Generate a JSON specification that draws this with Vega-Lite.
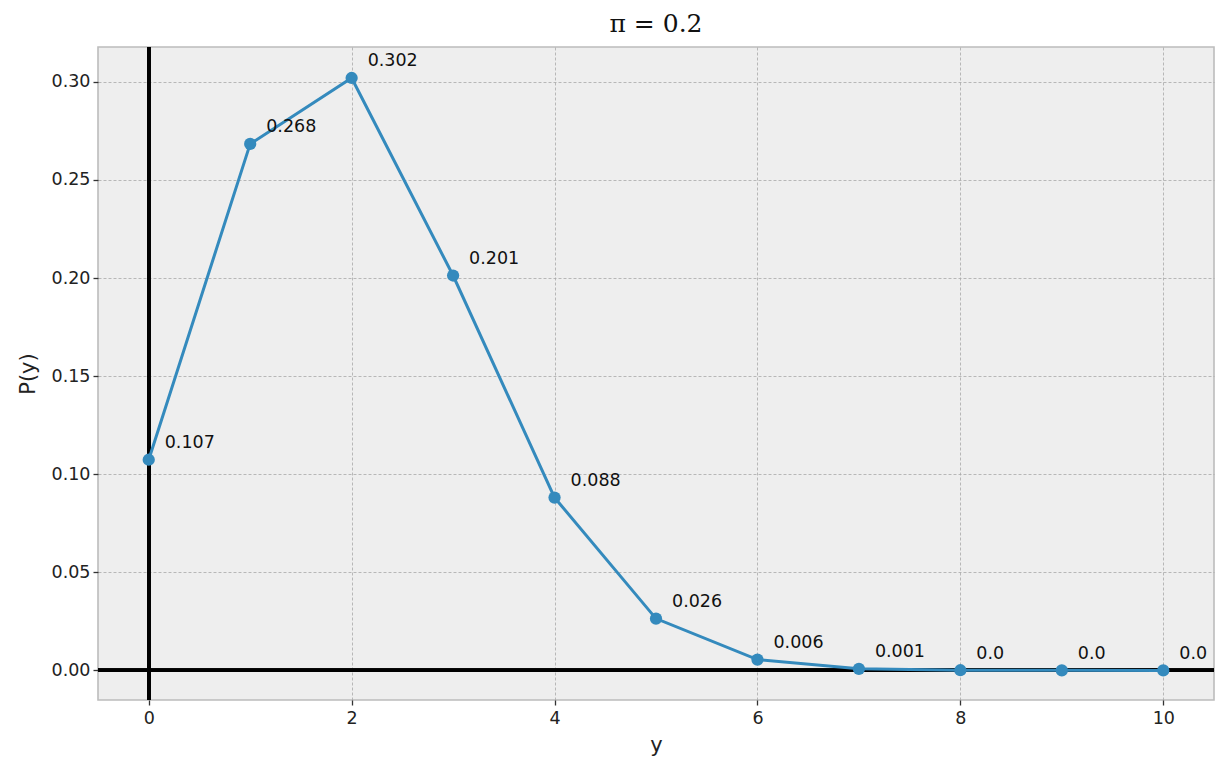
{
  "$schema": "https://vega.github.io/schema/vega-lite/v6.json",
  "autosize": "none",
  "width": 1116,
  "height": 653,
  "padding": {"left": 98, "top": 47, "right": 14, "bottom": 73},
  "background": "white",
  "config": {
    "view": {"fill": "#eeeeee", "stroke": "#bcbcbc", "strokeWidth": 1.6},
    "axis": {
      "domain": false,
      "grid": true,
      "gridColor": "#a8a8a8",
      "gridDash": [3, 2],
      "gridWidth": 0.8,
      "tickColor": "#333333",
      "tickSize": 5,
      "tickWidth": 1.3,
      "labelFont": "DejaVu Sans",
      "labelFontSize": 17.5,
      "labelColor": "#222222",
      "titleFont": "DejaVu Sans",
      "titleFontSize": 21,
      "titleFontWeight": "normal",
      "titleColor": "#222222"
    }
  },
  "title": {"text": "π = 0.2", "font": "DejaVu Serif", "fontSize": 25, "fontWeight": "normal", "color": "#111111", "offset": 8},
  "data": {"values": [
    {"y": 0, "p": 0.1074, "label": "0.107"},
    {"y": 1, "p": 0.2684, "label": "0.268"},
    {"y": 2, "p": 0.3020, "label": "0.302"},
    {"y": 3, "p": 0.2013, "label": "0.201"},
    {"y": 4, "p": 0.0881, "label": "0.088"},
    {"y": 5, "p": 0.0264, "label": "0.026"},
    {"y": 6, "p": 0.0055, "label": "0.006"},
    {"y": 7, "p": 0.00079, "label": "0.001"},
    {"y": 8, "p": 0.000074, "label": "0.0"},
    {"y": 9, "p": 0.0000041, "label": "0.0"},
    {"y": 10, "p": 0.0000001, "label": "0.0"}
  ]},
  "encoding": {
    "x": {"field": "y", "type": "quantitative", "scale": {"domain": [-0.5, 10.5], "nice": false, "zero": false},
      "axis": {"values": [0, 2, 4, 6, 8, 10], "title": "y", "labelPadding": 4, "titlePadding": 8}},
    "y": {"field": "p", "type": "quantitative", "scale": {"domain": [-0.0151, 0.3178], "nice": false, "zero": false},
      "axis": {"values": [0, 0.05, 0.1, 0.15, 0.2, 0.25, 0.3], "format": ".2f", "title": "P(y)", "labelPadding": 3, "titlePadding": 13}}
  },
  "layer": [
    {"mark": {"type": "rule", "color": "black", "strokeWidth": 3.2}, "encoding": {"y": {"datum": 0}, "x": null}},
    {"mark": {"type": "rule", "color": "black", "strokeWidth": 3.2}, "encoding": {"x": {"datum": 0}, "y": null}},
    {"mark": {"type": "line", "color": "#348ABD", "strokeWidth": 3}},
    {"mark": {"type": "point", "filled": true, "opacity": 1, "color": "#348ABD", "size": 150}},
    {"mark": {"type": "text", "align": "left", "baseline": "middle", "dx": 16, "dy": -16.5, "font": "DejaVu Sans", "fontSize": 17.5, "color": "#111111"}, "encoding": {"text": {"field": "label"}}}
  ]
}
